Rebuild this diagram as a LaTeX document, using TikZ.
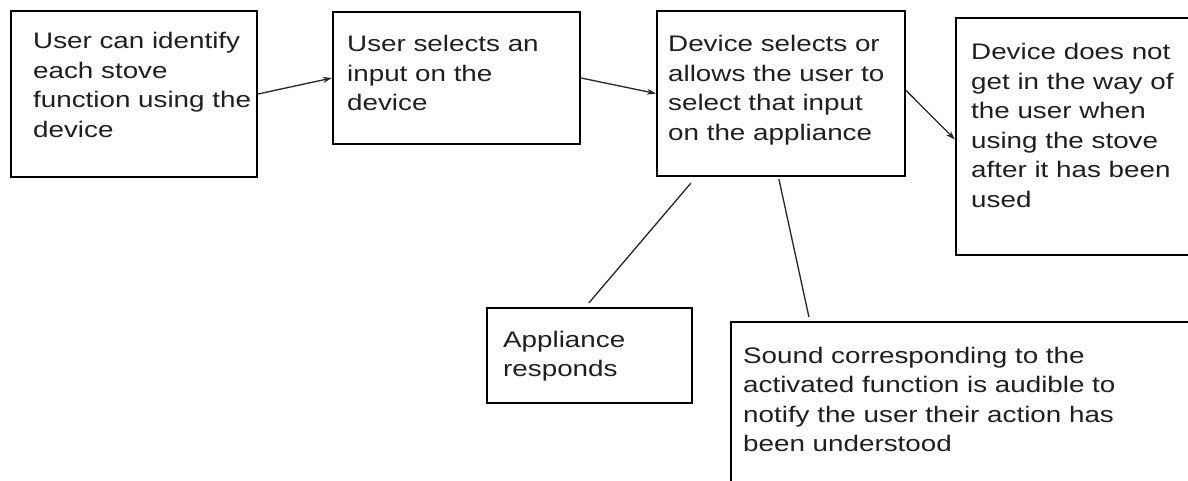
\documentclass[tikz,border=0pt]{standalone}
\usepackage{fontspec}
\newfontfamily\arialx[FakeStretch=1.235]{Liberation Sans}
\usetikzlibrary{arrows.meta,calc}
\begin{document}
\begin{tikzpicture}[x=1pt,y=-1pt,
  box/.style={draw=black,line width=2.2pt,rectangle,inner sep=0pt},
  txt/.style={anchor=base west,inner sep=0pt,align=left,text=black!88,
    font=\arialx\fontsize{22.5}{29.5}\selectfont},
  arrow/.style={draw=black!85,line width=1.3pt,-{Stealth[length=9pt,width=6pt]}},
  link/.style={draw=black!85,line width=1.3pt}]
\useasboundingbox (0,0) rectangle (1188,481);
\fill[white] (0,0) rectangle (1188,481);
% boxes
\node[box,minimum width=246pt,minimum height=166pt] (b1) at (134,94) {};
\node[box,minimum width=247pt,minimum height=132pt] (b2) at (456.5,78) {};
\node[box,minimum width=248pt,minimum height=165pt] (b3) at (781,93.5) {};
\node[box,minimum width=239pt,minimum height=237pt] (b4) at (1075.5,136.5) {};
\node[box,minimum width=205pt,minimum height=95pt] (b5) at (589.5,355.5) {};
\node[box,minimum width=464pt,minimum height=168pt] (b6) at (963,406) {};
% texts (base = baseline of the last line)
\node[txt] (t1) at (33,137.5) {User can identify\\each stove\\function using the\\device};
\node[txt] (t2) at (347,111) {User selects an\\input on the\\device};
\node[txt] (t3) at (668,140.5) {Device selects or\\allows the user to\\select that input\\on the appliance};
\node[txt] (t4) at (971,207.5) {Device does not\\get in the way of\\the user when\\using the stove\\after it has been\\used};
\node[txt] (t5) at (503,376.5) {Appliance\\responds};
\node[txt] (t6) at (743,451.5) {Sound corresponding to the\\activated function is audible to\\notify the user their action has\\been understood};
% connectors
\draw[arrow] (b1.east) -- (b2.west);
\draw[arrow] (b2.east) -- (b3.west);
\draw[arrow] ([yshift=3pt]b3.east) -- ([yshift=-3pt]b4.west);
\draw[link] ([xshift=35pt,yshift=-6pt]b3.south west) -- ([xshift=103pt,yshift=4pt]b5.north west);
\draw[link] ([xshift=123pt,yshift=-2pt]b3.south west) -- ([xshift=79pt,yshift=4pt]b6.north west);
\end{tikzpicture}
\end{document}
